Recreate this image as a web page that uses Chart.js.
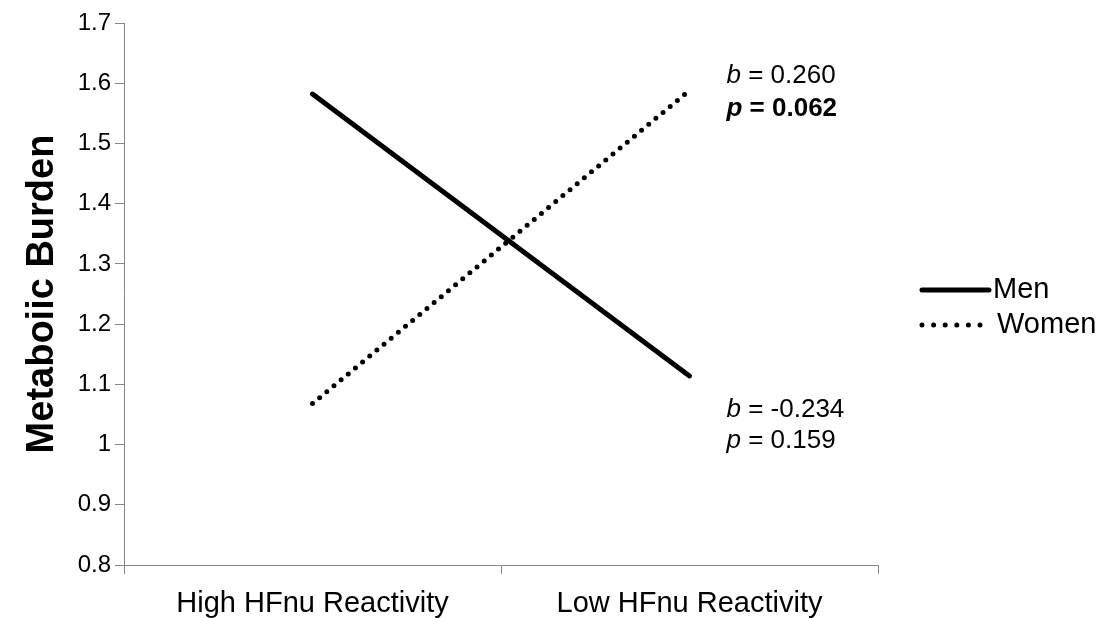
<!DOCTYPE html>
<html>
<head>
<meta charset="utf-8">
<script src="https://cdn.jsdelivr.net/npm/chart.js@4"></script>
<style>
  html, body { margin: 0; padding: 0; background: #ffffff; }
  canvas { display: block; }
</style>
</head>
<body>
<canvas id="chart" width="1103" height="618"></canvas>
<script>
// Metabolic burden by HFnu reactivity, split by sex
const categories = ['High HFnu Reactivity', 'Low HFnu Reactivity'];
const menValues = [1.582, 1.114];
const womenValues = [1.068, 1.588];
const seriesNames = ['Men', 'Women'];
const yTickValues = [0.8, 0.9, 1.0, 1.1, 1.2, 1.3, 1.4, 1.5, 1.6, 1.7];
const womenStats = { b: '0.260', p: '0.062', significant: true };
const menStats = { b: '-0.234', p: '0.159', significant: false };

const FONT = '"Liberation Sans", Arial, Helvetica, sans-serif';
const AXIS_GREY = '#868686';

// Slope statistics written next to the right-hand end of each line
const slopeLabels = {
  id: 'slopeLabels',
  afterDatasetsDraw(chart) {
    const ctx = chart.ctx;
    const x = chart.scales.x.getPixelForValue(1) + 37;
    const y = chart.scales.y;
    function statLines(stats, yB, yP) {
      ctx.save();
      ctx.fillStyle = '#000';
      ctx.textBaseline = 'middle';
      ctx.textAlign = 'left';
      ctx.font = 'italic 26px ' + FONT;
      ctx.fillText('b', x, yB);
      let w = ctx.measureText('b').width;
      ctx.font = '26px ' + FONT;
      ctx.fillText(' = ' + stats.b, x + w, yB);
      const weight = stats.significant ? 'bold ' : '';
      ctx.font = 'italic ' + weight + '26px ' + FONT;
      ctx.fillText('p', x, yP);
      w = ctx.measureText('p').width;
      ctx.font = weight + '26px ' + FONT;
      ctx.fillText(' = ' + stats.p, x + w, yP);
      ctx.restore();
    }
    const wEnd = y.getPixelForValue(womenValues[1]);
    const mEnd = y.getPixelForValue(menValues[1]);
    statLines(womenStats, wEnd - 15, wEnd + 18);
    statLines(menStats, mEnd + 34, mEnd + 65);
  }
};

// Legend drawn to the right of the plot, using each dataset's own line style
const sideLegend = {
  id: 'sideLegend',
  afterDraw(chart) {
    const ctx = chart.ctx;
    const area = chart.chartArea;
    const x0 = area.right + 44;
    const midY = (area.top + area.bottom) / 2;
    const rows = [midY - 4, midY + 31];
    chart.data.datasets.forEach((ds, i) => {
      const yy = rows[i];
      const dotted = ds.borderDash && ds.borderDash.length;
      ctx.save();
      ctx.strokeStyle = ds.borderColor;
      ctx.lineWidth = ds.borderWidth;
      ctx.lineCap = ds.borderCapStyle;
      ctx.setLineDash(dotted ? [0, 11.6] : []);
      ctx.beginPath();
      ctx.moveTo(x0, yy);
      ctx.lineTo(x0 + (dotted ? 59 : 67), yy);
      ctx.stroke();
      ctx.setLineDash([]);
      ctx.fillStyle = '#000';
      ctx.font = '29px ' + FONT;
      ctx.textBaseline = 'middle';
      ctx.fillText(ds.label, x0 + (dotted ? 75 : 71), yy);
      ctx.restore();
    });
  }
};

new Chart(document.getElementById('chart'), {
  type: 'line',
  data: {
    labels: categories,
    datasets: [
      {
        label: seriesNames[0],
        data: menValues,
        borderColor: '#000000',
        backgroundColor: '#000000',
        borderWidth: 5,
        borderCapStyle: 'round',
        pointRadius: 0,
        tension: 0
      },
      {
        label: seriesNames[1],
        data: womenValues,
        borderColor: '#000000',
        backgroundColor: '#000000',
        borderWidth: 5,
        borderCapStyle: 'round',
        borderDash: [0, 9.3],
        pointRadius: 0,
        tension: 0
      }
    ]
  },
  options: {
    responsive: false,
    animation: false,
    devicePixelRatio: 1,
    layout: { padding: { left: 0, right: 225, top: 23, bottom: 0 } },
    plugins: {
      legend: { display: false },
      tooltip: { enabled: false }
    },
    scales: {
      x: {
        type: 'category',
        offset: true,
        grid: {
          offset: true,
          drawOnChartArea: false,
          drawTicks: true,
          tickLength: 9,
          color: AXIS_GREY,
          lineWidth: 1
        },
        border: { display: true, color: AXIS_GREY, width: 1 },
        ticks: {
          color: '#000',
          font: { family: FONT, size: 29 },
          padding: 13,
          maxRotation: 0
        },
        afterFit(scale) { scale.height = 618 - 565; }
      },
      y: {
        type: 'linear',
        min: 0.8,
        max: 1.7,
        afterBuildTicks(scale) {
          scale.ticks = yTickValues.map(v => ({ value: v }));
        },
        grid: {
          drawOnChartArea: false,
          drawTicks: true,
          tickLength: 9,
          color: AXIS_GREY,
          lineWidth: 1
        },
        border: { display: true, color: AXIS_GREY, width: 1 },
        ticks: {
          color: '#000',
          font: { family: FONT, size: 24 },
          padding: 4,
          callback: v => String(Number(v.toFixed(1)))
        },
        title: {
          display: true,
          text: 'Metaboiic Burden',
          color: '#000',
          font: { family: FONT, size: 38, weight: 'bold' },
          padding: { top: 20, bottom: 0 }
        },
        afterFit(scale) { scale.width = 124; }
      }
    }
  },
  plugins: [slopeLabels, sideLegend]
});
</script>
</body>
</html>
